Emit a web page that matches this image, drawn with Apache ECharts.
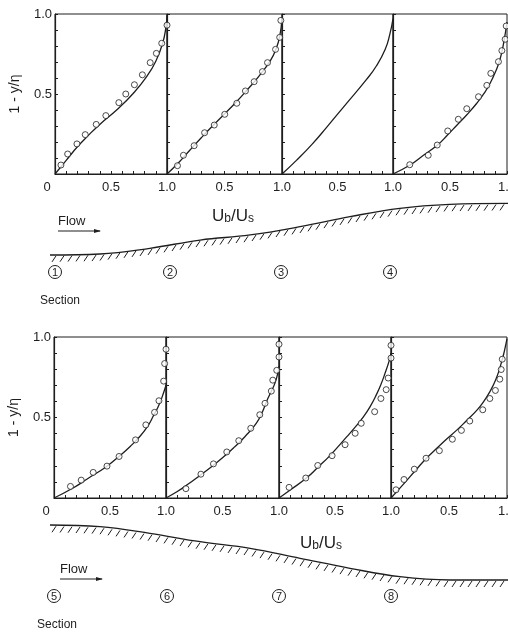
<!DOCTYPE html>
<html>
<head>
<meta charset="utf-8">
<script src="https://cdn.jsdelivr.net/npm/echarts@6/dist/echarts.min.js"></script>
<style>
  html, body { margin: 0; padding: 0; background: #fff; }
  #chart { width: 508px; height: 633px; }
</style>
</head>
<body>
<div id="chart"></div>
<script>
// velocity profiles, Ub/Us (x) against 1 - y/η (y), sections 1-8
const theory1 = [[0, 0], [0.1, 0.085], [0.2, 0.17], [0.3, 0.243], [0.4, 0.31], [0.55, 0.4], [0.7, 0.505], [0.82, 0.61], [0.9, 0.705], [0.96, 0.815], [0.99, 0.915], [1.0, 0.99]]
const measured1 = [[0.053, 0.056], [0.113, 0.125], [0.196, 0.188], [0.27, 0.246], [0.368, 0.31], [0.454, 0.365], [0.57, 0.446], [0.632, 0.5], [0.709, 0.558], [0.78, 0.62], [0.85, 0.696], [0.905, 0.754], [0.953, 0.817], [1.0, 0.93]]

const theory2 = [[0, 0], [0.1, 0.07], [0.2, 0.15], [0.3, 0.228], [0.4, 0.303], [0.5, 0.375], [0.6, 0.448], [0.7, 0.528], [0.8, 0.612], [0.9, 0.71], [0.95, 0.785], [0.98, 0.86], [1.0, 0.97]]
const measured2 = [[0.091, 0.052], [0.143, 0.117], [0.236, 0.177], [0.327, 0.258], [0.411, 0.306], [0.502, 0.373], [0.607, 0.442], [0.682, 0.519], [0.758, 0.577], [0.83, 0.64], [0.874, 0.696], [0.944, 0.779], [0.98, 0.854], [0.99, 0.96]]

const theory3 = [[0, 0], [0.13, 0.085], [0.27, 0.185], [0.4, 0.29], [0.58, 0.44], [0.76, 0.59], [0.85, 0.675], [0.93, 0.78], [0.97, 0.87], [1.0, 0.97]]
const measured3 = []

const theory4 = [[0, 0], [0.15, 0.056], [0.25, 0.108], [0.39, 0.181], [0.48, 0.245], [0.56, 0.305], [0.65, 0.372], [0.735, 0.442], [0.8, 0.505], [0.852, 0.567], [0.9, 0.64], [0.94, 0.72], [0.97, 0.817], [1.0, 0.95]]
const measured4 = [[0.147, 0.058], [0.309, 0.117], [0.388, 0.181], [0.48, 0.269], [0.573, 0.342], [0.647, 0.408], [0.75, 0.483], [0.823, 0.554], [0.858, 0.629], [0.925, 0.702], [0.955, 0.771], [0.984, 0.842], [0.993, 0.925]]

const theory5 = [[0, 0], [0.17, 0.062], [0.3, 0.12], [0.47, 0.196], [0.59, 0.264], [0.68, 0.32], [0.77, 0.385], [0.84, 0.45], [0.889, 0.512], [0.93, 0.567], [0.964, 0.625], [1.0, 0.7]]
const measured5 = [[0.147, 0.072], [0.243, 0.111], [0.35, 0.159], [0.473, 0.198], [0.581, 0.258], [0.728, 0.361], [0.82, 0.454], [0.898, 0.532], [0.937, 0.604], [0.979, 0.726], [0.988, 0.835], [1.0, 0.924]]

const theory6 = [[0, 0], [0.1, 0.04], [0.2, 0.088], [0.3, 0.14], [0.4, 0.193], [0.5, 0.25], [0.6, 0.313], [0.7, 0.382], [0.8, 0.465], [0.85, 0.53], [0.89, 0.6], [0.93, 0.66], [0.965, 0.715], [0.994, 0.79], [1.0, 0.82]]
const measured6 = [[0.176, 0.058], [0.309, 0.148], [0.42, 0.212], [0.538, 0.286], [0.644, 0.356], [0.75, 0.433], [0.83, 0.517], [0.876, 0.588], [0.932, 0.664], [0.945, 0.732], [0.98, 0.793], [1.0, 0.876], [1.0, 0.955]]

const theory7 = [[0, 0], [0.1, 0.05], [0.245, 0.124], [0.35, 0.193], [0.457, 0.265], [0.606, 0.381], [0.68, 0.44], [0.755, 0.505], [0.82, 0.575], [0.872, 0.645], [0.91, 0.705], [0.946, 0.773], [0.985, 0.855], [1.0, 0.9]]
const measured7 = [[0.09, 0.066], [0.239, 0.124], [0.346, 0.202], [0.474, 0.263], [0.59, 0.331], [0.68, 0.402], [0.734, 0.464], [0.854, 0.536], [0.91, 0.618], [0.957, 0.673], [0.975, 0.745], [1.0, 0.869], [1.0, 0.948]]

const theory8 = [[0, 0], [0.1, 0.08], [0.224, 0.182], [0.31, 0.25], [0.397, 0.31], [0.48, 0.366], [0.569, 0.423], [0.65, 0.48], [0.741, 0.546], [0.8, 0.6], [0.856, 0.665], [0.9, 0.73], [0.935, 0.8], [0.971, 0.893], [0.991, 0.958], [1.0, 0.99]]
const measured8 = [[0.043, 0.051], [0.112, 0.115], [0.201, 0.179], [0.302, 0.247], [0.417, 0.294], [0.529, 0.365], [0.607, 0.42], [0.679, 0.478], [0.791, 0.548], [0.852, 0.618], [0.9, 0.668], [0.938, 0.738], [0.95, 0.798], [0.959, 0.862]]

// tick labels
const xTickLabels = { 0: '0', 0.5: '0.5', 1: '1.0' }
const yTickLabels = { 0.5: '0.5', 1: '1.0' }

// channel bed sketch (relative elevation along the flume)
const bedX = [0, 0.109, 0.218, 0.328, 0.437, 0.546, 0.655, 0.764, 0.873, 1.0]
const bedUp = [0.083, 0.1, 0.195, 0.333, 0.417, 0.555, 0.722, 0.862, 0.928, 0.945]
const bedDown = [0.923, 0.897, 0.795, 0.666, 0.564, 0.41, 0.257, 0.128, 0.077, 0.077]

const sectionsTop = ['1', '2', '3', '4']
const sectionsBottom = ['5', '6', '7', '8']

const theory = [theory1, theory2, theory3, theory4, theory5, theory6, theory7, theory8]
const measured = [measured1, measured2, measured3, measured4, measured5, measured6, measured7, measured8]

const ink = '#1e1e1e'
const font = '"Liberation Sans", Arial, sans-serif'
const topEdges = [55, 167, 282, 393, 507]
const botEdges = [54, 166, 279, 391, 507]

function pick(map, v) {
  for (const k in map) {
    if (Math.abs(v - Number(k)) < 1e-6) return map[k]
  }
  return ''
}

let grid = []
let xAxis = []
let yAxis = []
let series = []

for (let i = 0; i < 8; i++) {
  const k = i % 4
  const edges = i < 4 ? topEdges : botEdges
  const first = k === 0
  grid.push({
    left: edges[k],
    width: edges[k + 1] - edges[k],
    top: i < 4 ? 14 : 337,
    height: i < 4 ? 160 : 161,
    show: true,
    borderColor: ink,
    borderWidth: 1,
    outerBoundsMode: 'none'
  })
  xAxis.push({
    gridIndex: i,
    type: 'value',
    min: 0,
    max: 1,
    interval: 0.1,
    axisLine: { show: true, lineStyle: { color: ink, width: 1.2 } },
    axisTick: { show: true, inside: true, length: 3, lineStyle: { color: ink } },
    splitLine: { show: false },
    axisLabel: {
      margin: 7,
      fontSize: 13,
      fontFamily: font,
      color: ink,
      formatter: v => {
        if (Math.abs(v) < 1e-6) return first ? '{z|' + xTickLabels[0] + '}' : ''
        return pick(xTickLabels, v)
      },
      rich: { z: { fontSize: 13, fontFamily: font, color: ink, padding: [0, 16, 0, 0] } }
    }
  })
  yAxis.push({
    gridIndex: i,
    type: 'value',
    min: 0,
    max: 1,
    interval: 0.1,
    axisLine: { show: true, lineStyle: { color: ink, width: 1.2 } },
    axisTick: { show: true, inside: true, length: 3, lineStyle: { color: ink } },
    splitLine: { show: false },
    axisLabel: {
      show: first,
      margin: 3,
      fontSize: 13,
      fontFamily: font,
      color: ink,
      formatter: v => pick(yTickLabels, v)
    },
    name: first ? '1 - y/η' : '',
    nameLocation: 'middle',
    nameRotate: 90,
    nameGap: 33,
    nameTextStyle: { fontSize: 14, fontFamily: font, color: ink }
  })
  series.push({
    type: 'line',
    xAxisIndex: i,
    yAxisIndex: i,
    data: theory[i],
    smooth: 0.5,
    showSymbol: false,
    lineStyle: { color: ink, width: 1.3 },
    z: 3
  })
  if (measured[i].length) {
    series.push({
      type: 'scatter',
      xAxisIndex: i,
      yAxisIndex: i,
      data: measured[i],
      symbol: 'circle',
      symbolSize: 6,
      itemStyle: { color: '#fff', borderColor: ink, borderWidth: 1 },
      z: 4
    })
  }
}

// bed sketches
grid.push({ left: 50, width: 458, top: 200, height: 60, outerBoundsMode: 'none' })
grid.push({ left: 50, width: 458, top: 520, height: 65, outerBoundsMode: 'none' })
for (let g = 8; g < 10; g++) {
  xAxis.push({ gridIndex: g, type: 'value', min: 0, max: 1, show: false })
  yAxis.push({ gridIndex: g, type: 'value', min: 0, max: 1, show: false })
}

function bedSeries(elev, g) {
  return [
    {
      type: 'line',
      xAxisIndex: g,
      yAxisIndex: g,
      data: bedX.map((x, j) => [x, elev[j]]),
      smooth: 0.4,
      showSymbol: false,
      lineStyle: { color: ink, width: 1.3 }
    },
    {
      // hatching under the bed line
      type: 'custom',
      xAxisIndex: g,
      yAxisIndex: g,
      data: [[0, 0]],
      clip: false,
      renderItem: (params, api) => {
        const pts = bedX.map((x, j) => api.coord([x, elev[j]]))
        let children = []
        for (let hx = pts[0][0] + 6; hx < pts[pts.length - 1][0]; hx += 8) {
          let j = 0
          while (j < pts.length - 2 && pts[j + 1][0] < hx) j++
          const t = (hx - pts[j][0]) / (pts[j + 1][0] - pts[j][0])
          const hy = pts[j][1] + t * (pts[j + 1][1] - pts[j][1])
          children.push({
            type: 'line',
            shape: { x1: hx, y1: hy + 1, x2: hx - 4, y2: hy + 7 },
            style: { stroke: ink, lineWidth: 1 }
          })
        }
        return { type: 'group', children: children }
      }
    }
  ]
}
series = series.concat(bedSeries(bedUp, 8), bedSeries(bedDown, 9))

function circled(label, cx, cy) {
  return {
    type: 'group',
    children: [
      { type: 'circle', shape: { cx: cx, cy: cy, r: 6.5 }, style: { fill: 'none', stroke: ink, lineWidth: 1 } },
      { type: 'text', x: cx, y: cy + 0.5, style: { text: label, font: '11px ' + font, fill: ink, align: 'center', verticalAlign: 'middle' } }
    ]
  }
}

function flow(x, y) {
  return {
    type: 'group',
    children: [
      { type: 'text', x: x, y: y, style: { text: 'Flow', font: '13px ' + font, fill: ink, align: 'left', verticalAlign: 'bottom' } },
      { type: 'line', shape: { x1: x, y1: y + 3, x2: x + 42, y2: y + 3 }, style: { stroke: ink, lineWidth: 1.2 } },
      { type: 'polygon', shape: { points: [[x + 43, y + 3], [x + 36, y + 1], [x + 36, y + 5]] }, style: { fill: ink } }
    ]
  }
}

function ratioLabel(cx, cy) {
  return {
    type: 'text',
    x: cx,
    y: cy,
    style: {
      text: '{u|U}{s|b}{u|/U}{s|s}',
      align: 'center',
      verticalAlign: 'middle',
      rich: {
        u: { fontSize: 17, fontFamily: font, fill: ink },
        s: { fontSize: 12, fontFamily: font, fill: ink, verticalAlign: 'bottom' }
      }
    }
  }
}

const sectionX = [55, 170, 281, 390]
const sectionX2 = [54, 167, 279, 391]

let graphic = [
  flow(58, 228),
  flow(60, 576),
  ratioLabel(233, 216),
  ratioLabel(321, 543),
  { type: 'text', x: 40, y: 301, style: { text: 'Section', font: '12px ' + font, fill: ink, verticalAlign: 'middle' } },
  { type: 'text', x: 37, y: 625, style: { text: 'Section', font: '12px ' + font, fill: ink, verticalAlign: 'middle' } }
]
sectionsTop.forEach((s, j) => graphic.push(circled(s, sectionX[j], 272)))
sectionsBottom.forEach((s, j) => graphic.push(circled(s, sectionX2[j], 596)))

const myChart = echarts.init(document.getElementById('chart'), null, { renderer: 'canvas' })
const option = {
  backgroundColor: '#fff',
  animation: false,
  grid: grid,
  xAxis: xAxis,
  yAxis: yAxis,
  series: series,
  graphic: graphic
}
myChart.setOption(option)
</script>
</body>
</html>
